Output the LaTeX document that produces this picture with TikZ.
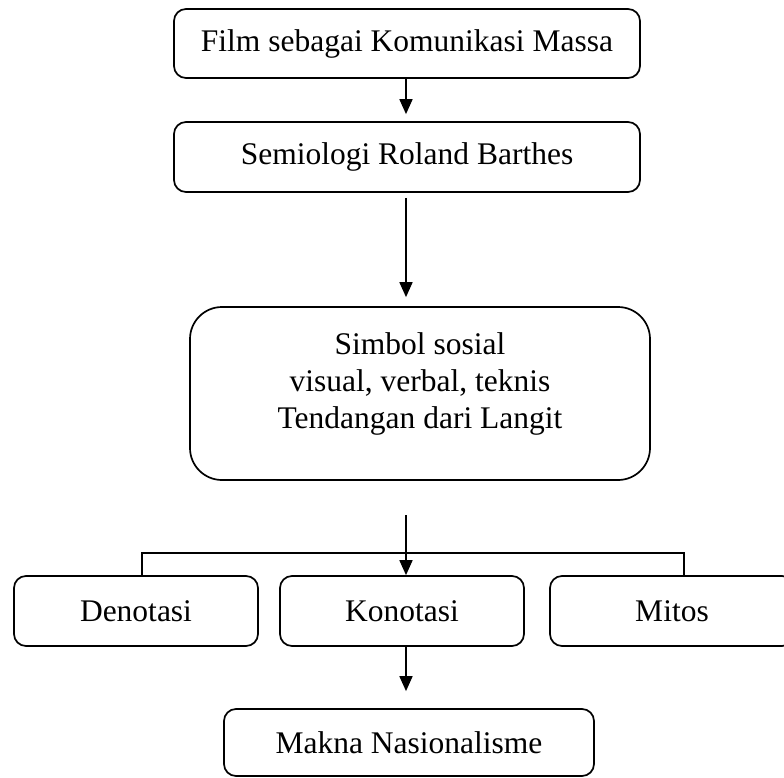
\documentclass[tikz,border=0pt]{standalone}
\usepackage{fontspec}
\setmainfont{Liberation Serif}
\usetikzlibrary{arrows.meta, positioning}

\begin{document}
\begin{tikzpicture}[
    x=1pt, y=-1pt,
    every node/.style={font=\fontsize{31.5}{37}\selectfont},
    box/.style={draw, line width=1.7pt, rounded corners=12pt, inner sep=0pt,
                align=center, minimum height=70pt},
    bigbox/.style={box, rounded corners=32pt, inner sep=0pt},
    flow/.style={line width=1.7pt, -{Triangle[length=15pt,width=13pt]}},
    link/.style={line width=1.7pt}
  ]
    \useasboundingbox (0,0) rectangle (784,778);
    \node[box, minimum width=466pt, minimum height=69pt] (film) at (407,43.5) {Film sebagai Komunikasi Massa};
    \node[box, minimum width=466pt] (semiologi) at (407,157) {Semiologi Roland Barthes};
    \node[bigbox, minimum width=460pt, minimum height=173pt, text height=121pt, text depth=52pt] (simbol) at (420,393.5) {
      Simbol sosial\\
      visual, verbal, teknis\\
      Tendangan dari Langit
    };
    \node[box, minimum width=244pt] (denotasi) at (136,611) {Denotasi};
    \node[box, minimum width=244pt] (konotasi) at (402,611) {Konotasi};
    \node[box, minimum width=244pt] (mitos) at (672,611) {Mitos};
    \node[box, minimum width=370pt, minimum height=67pt] (makna) at (409,742.5) {Makna Nasionalisme};

    % cabang ke tiga tingkat makna
    \coordinate (split) at (406,515);
    \coordinate (busL) at (142,553);
    \coordinate (busR) at (684,553);

    \draw[flow] (film.south -| split) -- ([yshift=7pt]semiologi.north -| split);
    \draw[flow] ([yshift=-5pt]semiologi.south -| split) -- ([yshift=9pt]simbol.north -| split);
    \draw[flow] (split) -- (split |- konotasi.north);
    \draw[link] (denotasi.north -| busL) -- (busL) -- (busR) -- (mitos.north -| busR);
    \draw[flow] (konotasi.south -| split) -- ([yshift=17pt]makna.north -| split);
  \end{tikzpicture}
\end{document}
